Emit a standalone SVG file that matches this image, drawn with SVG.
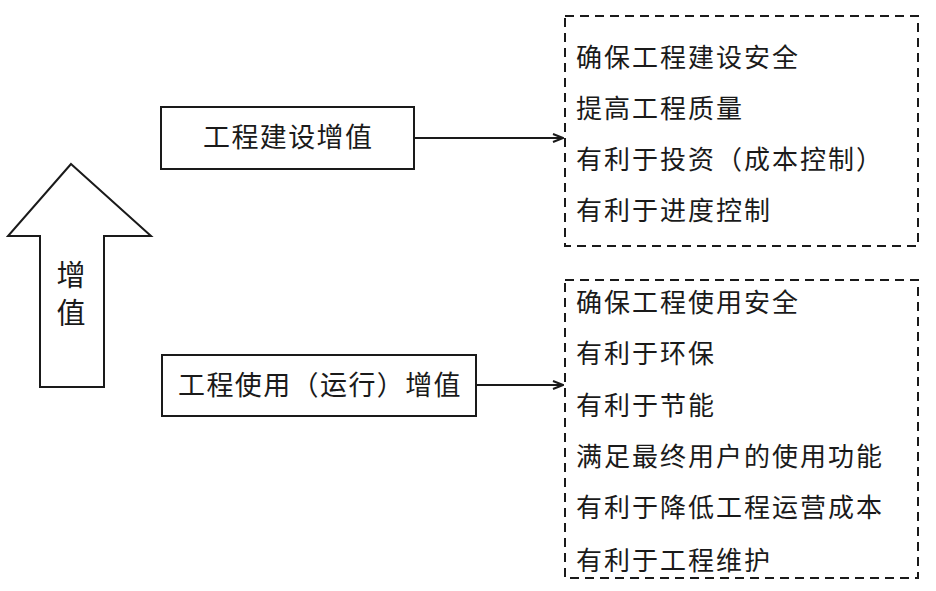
<svg xmlns="http://www.w3.org/2000/svg" width="936" height="591" viewBox="0 0 936 591">
<defs>
<style>
text{font-family:"Liberation Sans","Noto Sans CJK SC",sans-serif;fill:#1a1a1a;dominant-baseline:central}
.b{fill:#fff;stroke:#1a1a1a;stroke-width:2}
.d{fill:none;stroke:#1a1a1a;stroke-width:2;stroke-dasharray:9,6}
.l{font-size:26px;letter-spacing:2px}
.t{font-size:27px;letter-spacing:1.4px}
.c{stroke:#1a1a1a;stroke-width:2;fill:none}
</style>
<marker id="ah" markerWidth="12" markerHeight="10" refX="11" refY="5" orient="auto" markerUnits="userSpaceOnUse">
<path d="M1,1 L11,5 L1,9" fill="none" stroke="#1a1a1a" stroke-width="2"/>
</marker>
</defs>
<g id="arrow-up">
<polygon class="b" points="71,164 151,236 104,236 104,387 40,387 40,236 8,236"/>
<text x="71" y="276" font-size="29" text-anchor="middle">增</text>
<text x="71" y="314" font-size="29" text-anchor="middle">值</text>
</g>
<g id="n1"><rect class="b" x="161" y="107" width="253" height="62"/><text class="t" x="203" y="138">工程建设增值</text></g>
<g id="n2"><rect class="b" x="162" y="355" width="314" height="61"/><text class="t" x="178" y="386">工程使用（运行）增值</text></g>
<g id="g1"><rect class="d" x="565" y="16" width="353" height="230"/>
<text class="l" x="576" y="58">确保工程建设安全</text>
<text class="l" x="576" y="109">提高工程质量</text>
<text class="l" x="576" y="160">有利于投资（成本控制）</text>
<text class="l" x="576" y="211">有利于进度控制</text></g>
<g id="g2"><rect class="d" x="565" y="280" width="353" height="298"/>
<text class="l" x="576" y="303">确保工程使用安全</text>
<text class="l" x="576" y="354">有利于环保</text>
<text class="l" x="576" y="406">有利于节能</text>
<text class="l" x="576" y="457">满足最终用户的使用功能</text>
<text class="l" x="576" y="508">有利于降低工程运营成本</text>
<text class="l" x="576" y="561">有利于工程维护</text></g>
<g id="connectors">
<line class="c" x1="414" y1="138" x2="563" y2="138" marker-end="url(#ah)"/>
<line class="c" x1="476" y1="385" x2="563" y2="385" marker-end="url(#ah)"/>
</g>
</svg>
